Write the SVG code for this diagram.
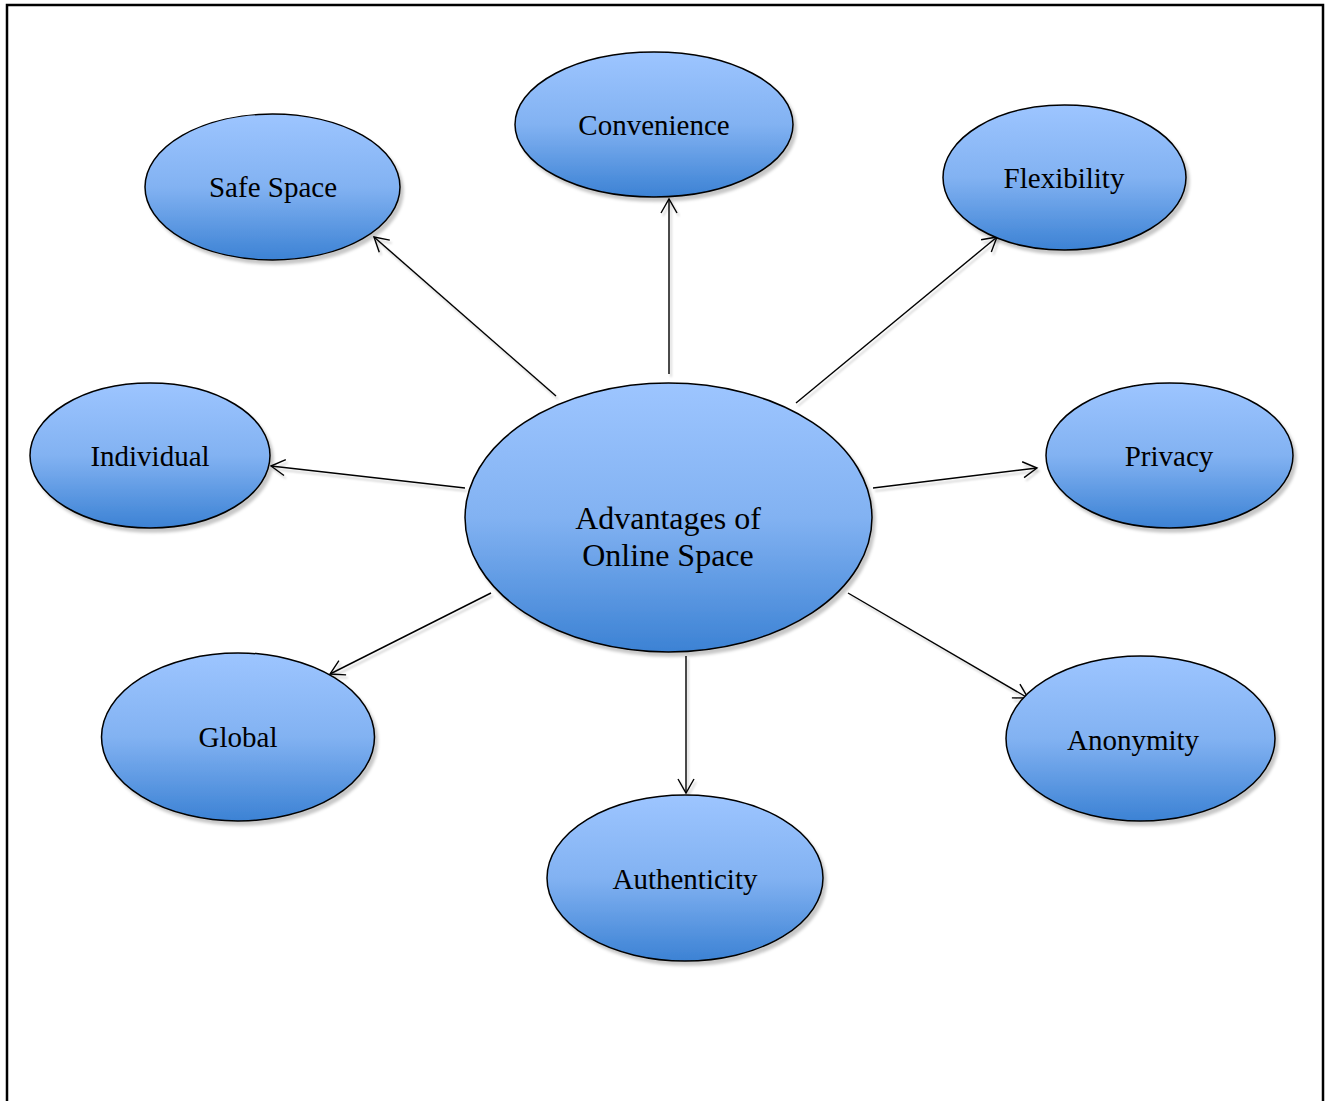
<svg xmlns="http://www.w3.org/2000/svg" width="1327" height="1101" viewBox="0 0 1327 1101">
<defs>
<linearGradient id="g" x1="0" y1="0" x2="0" y2="1">
<stop offset="0" stop-color="#9DC5FF"/>
<stop offset="0.5" stop-color="#82B2F2"/>
<stop offset="1" stop-color="#3C82D4"/>
</linearGradient>
<filter id="sh" x="-10%" y="-10%" width="125%" height="130%">
<feDropShadow dx="3" dy="4" stdDeviation="1.5" flood-color="#000" flood-opacity="0.22"/>
</filter>
<filter id="lsh" x="-10%" y="-10%" width="125%" height="130%" filterUnits="userSpaceOnUse">
<feDropShadow dx="2" dy="3" stdDeviation="1" flood-color="#000" flood-opacity="0.2"/>
</filter>
<marker id="ah" markerUnits="userSpaceOnUse" markerWidth="22" markerHeight="22" viewBox="-16 -11 18 22" refX="0" refY="0" orient="auto">
<path d="M -14 -8 L 0 0 L -14 8" fill="none" stroke="#000" stroke-width="1.4"/>
</marker>
</defs>
<style>
.n ellipse{fill:url(#g);stroke:#000;stroke-width:1.5;filter:url(#sh)}
.n text{font-family:"Liberation Serif","Times New Roman",serif;font-size:29px;fill:#000;text-anchor:middle}
#center text{font-size:32px}
.c line{stroke:#000;stroke-width:1.4;marker-end:url(#ah)}
</style>
<rect x="7" y="5" width="1316" height="1120" fill="#fff" stroke="#000" stroke-width="2.5"/>
<g id="connectors" class="c" filter="url(#lsh)">
<line x1="669" y1="374" x2="669" y2="199"/>
<line x1="556" y1="396" x2="374" y2="237"/>
<line x1="796" y1="403" x2="997" y2="237"/>
<line x1="465" y1="488" x2="271" y2="466"/>
<line x1="873" y1="488" x2="1037" y2="468"/>
<line x1="491" y1="593" x2="330" y2="674"/>
<line x1="686" y1="656" x2="686" y2="793"/>
<line x1="848" y1="593" x2="1028" y2="698"/>
</g>
<g id="center" class="n">
<ellipse cx="668.5" cy="517.5" rx="203.5" ry="134.5"/>
<text x="668" y="529">Advantages of</text>
<text x="668" y="566">Online Space</text>
</g>
<g id="convenience" class="n">
<ellipse cx="654" cy="124.5" rx="139" ry="72.5"/>
<text x="654" y="135">Convenience</text>
</g>
<g id="safe-space" class="n">
<ellipse cx="272.5" cy="187" rx="127.5" ry="73"/>
<text x="273" y="197">Safe Space</text>
</g>
<g id="flexibility" class="n">
<ellipse cx="1064.5" cy="177.5" rx="121.5" ry="72.5"/>
<text x="1064" y="188">Flexibility</text>
</g>
<g id="individual" class="n">
<ellipse cx="150" cy="455.5" rx="120" ry="72.5"/>
<text x="150" y="466">Individual</text>
</g>
<g id="privacy" class="n">
<ellipse cx="1169.5" cy="455.5" rx="123.5" ry="72.5"/>
<text x="1169" y="466">Privacy</text>
</g>
<g id="global" class="n">
<ellipse cx="238" cy="737" rx="136.5" ry="84"/>
<text x="238" y="747">Global</text>
</g>
<g id="anonymity" class="n">
<ellipse cx="1140.5" cy="738.5" rx="134.5" ry="82.5"/>
<text x="1133" y="750">Anonymity</text>
</g>
<g id="authenticity" class="n">
<ellipse cx="685" cy="878" rx="138" ry="83"/>
<text x="685" y="889">Authenticity</text>
</g>
</svg>
